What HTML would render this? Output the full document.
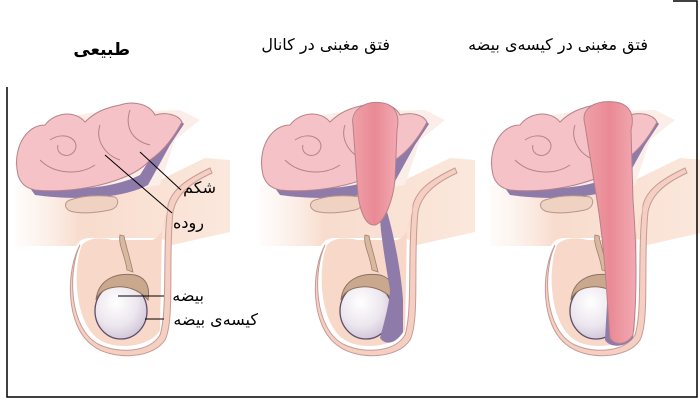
<!DOCTYPE html>
<html><head><meta charset="utf-8"><style>
html,body{margin:0;padding:0;background:#fff;}
svg{display:block;}
text{font-family:"DejaVu Sans","Liberation Sans",sans-serif;}
</style></head><body>
<svg width="700" height="400" viewBox="0 0 700 400" xmlns="http://www.w3.org/2000/svg">
<defs>
<radialGradient id="tes" cx="0.4" cy="0.35" r="0.7">
<stop offset="0" stop-color="#ffffff"/><stop offset="0.6" stop-color="#ece6ee"/><stop offset="1" stop-color="#cfc2d6"/>
</radialGradient>
<linearGradient id="peach" x1="0" x2="1" y1="0" y2="0">
<stop offset="0" stop-color="#fbeee6" stop-opacity="0.2"/><stop offset="0.3" stop-color="#f8dccd"/><stop offset="1" stop-color="#fbe8dc"/>
</linearGradient>
<linearGradient id="herg" x1="0" x2="1">
<stop offset="0" stop-color="#f0a0a8"/><stop offset="0.5" stop-color="#e98a95"/><stop offset="1" stop-color="#f2aab2"/>
</linearGradient>
<g id="base">
<path d="M15 185 L160 180 L205 158 L230 160 L230 232 L172 245 C170 240 160 238 150 238 L90 238 C82 238 78 242 76 246 L15 246 Z" fill="url(#peach)"/>
<path d="M15 165 C20 130 60 115 100 112 L180 110 L200 120 L175 140 L160 185 L100 195 L40 195 Z" fill="#fbeee8"/>
<path d="M30 188 C70 190 110 190 140 175 L165 135 L180 120 L184 124 L170 145 L148 185 C120 200 70 200 35 195 Z" fill="#8f7ba9"/>
<path d="M80 245 C68 270 68 330 100 345 C120 354 150 352 160 335 C168 310 162 250 168 205 C172 190 185 180 210 168 L212 173 C188 184 176 196 173 212 C168 260 175 320 165 340 C152 360 110 360 92 345 C65 325 66 270 80 245 Z" fill="#f5cfc2" stroke="#c79a94" stroke-width="1"/>
<path d="M82 245 C88 238 100 237 112 240 L150 240 C160 240 166 225 168 205 L162 230 L160 330 C150 348 115 350 100 340 C75 325 72 270 82 245 Z" fill="#f7d8c9"/>
<path d="M70 200 C85 195 100 195 115 197 C120 200 118 208 110 210 C95 213 80 214 70 211 C64 208 64 202 70 200 Z" fill="#f0d2c2" stroke="#b8958a" stroke-width="1"/>
<path d="M120 235 C118 245 125 255 127 270 L133 272 C130 258 126 246 124 236 Z" fill="#d9b8a0" stroke="#a08070" stroke-width="0.8"/>
<ellipse cx="121" cy="311" rx="26" ry="28" fill="url(#tes)" stroke="#5a4e68" stroke-width="1.3"/>
<path d="M96 300 C98 280 115 272 135 275 C147 278 150 288 148 300 C140 290 125 284 110 288 C100 291 97 297 96 300 Z" fill="#c9a88e" stroke="#8e7060" stroke-width="1"/>
</g>
<g id="gut">
<path d="M18 175 C12 150 25 125 45 125 C55 112 75 110 85 122 C95 112 105 108 120 105 C135 100 150 105 155 115 C165 112 178 114 182 122 C175 135 165 150 150 160 C140 172 120 180 100 185 C80 190 55 192 35 190 C25 188 20 182 18 175 Z" fill="#f4c2c7" stroke="#b98088" stroke-width="1"/>
<path d="M50 140 C65 130 80 140 75 150 C70 160 55 155 58 145 M100 125 C95 140 105 155 120 160 M130 110 C125 125 130 140 150 145 M40 160 C55 175 80 175 95 165" fill="none" stroke="#b98088" stroke-width="1"/>
</g>
</defs>

<use href="#base"/>
<use href="#gut"/>
<g transform="translate(245,0)">
<use href="#base"/>
<path d="M140 205 C148 230 156 270 158 300 L158 332 C150 345 140 345 135 338 C140 320 145 300 145 290 C140 260 135 230 135 215 Z" fill="#8f7ba9"/>
<use href="#gut"/>
<path d="M108 125 C105 110 120 100 138 103 C150 105 155 115 152 130 L150 180 C148 200 140 222 130 225 C120 226 115 210 113 195 Z" fill="url(#herg)" stroke="#b98088" stroke-width="1"/>
</g>
<g transform="translate(475,0)">
<use href="#base"/>
<path d="M140 200 C150 230 158 270 160 300 L158 338 C150 348 135 348 130 340 L135 250 Z" fill="#8f7ba9"/>
<use href="#gut"/>
<path d="M110 125 C105 108 120 100 140 102 C155 104 160 115 156 130 L158 200 C162 250 162 300 158 335 C152 345 140 346 135 338 C132 300 130 250 122 200 Z" fill="url(#herg)" stroke="#b98088" stroke-width="1"/>
</g>

<g stroke="#000" stroke-width="1" fill="none">
<line x1="140" y1="152" x2="181" y2="190"/>
<line x1="105" y1="155" x2="172" y2="213"/>
<line x1="118" y1="296" x2="164" y2="296"/>
<line x1="145" y1="319" x2="164" y2="319"/>
</g>
<g font-size="16" fill="#000" text-anchor="end">
<text x="216" y="193">شکم</text>
<text x="204" y="228">روده</text>
<text x="204" y="301">بیضه</text>
<text x="258" y="325">کیسه‌ی بیضه</text>
</g>
<g font-size="16" fill="#000" text-anchor="end">
<text x="130" y="55" font-size="17" font-weight="bold">طبیعی</text>
<text x="390" y="50">فتق مغبنی در کانال</text>
<text x="648" y="50">فتق مغبنی در کیسه‌ی بیضه</text>
</g>
<g stroke="#000" stroke-width="1.5" fill="none">
<polyline points="7,87 7,397 697,397 697,1 673,1"/>
</g>
</svg>
</body></html>
